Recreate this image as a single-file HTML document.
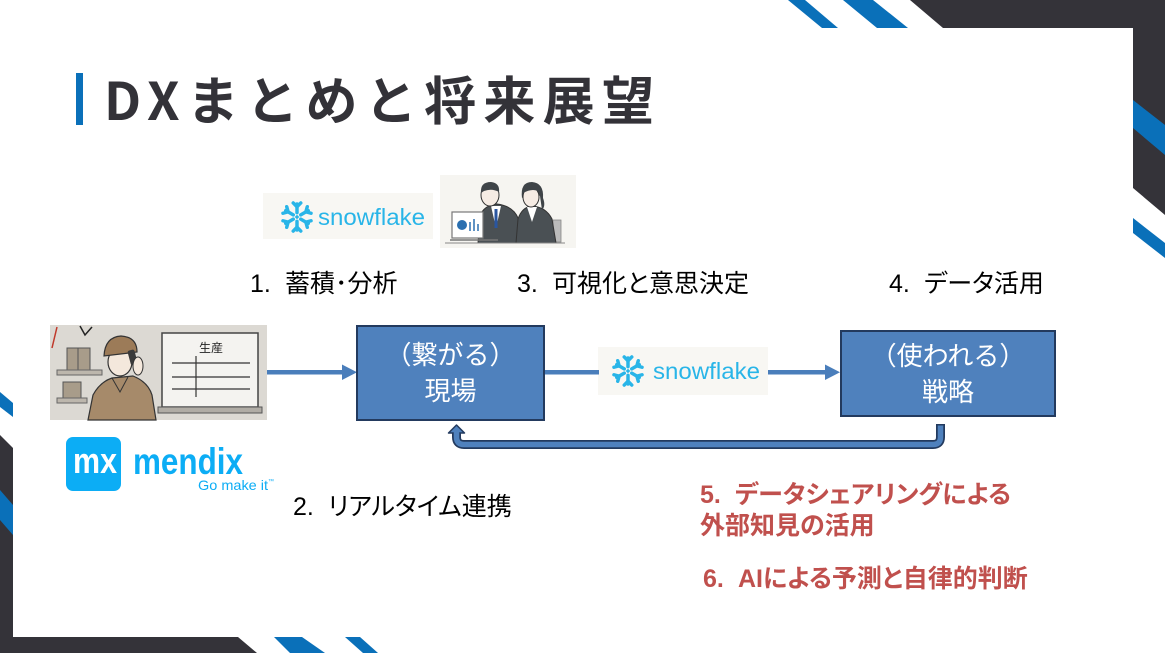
<!DOCTYPE html>
<html><head><meta charset="utf-8">
<style>
html,body{margin:0;padding:0;}
body{width:1165px;height:653px;position:relative;overflow:hidden;background:#fff;font-family:"Liberation Sans","Noto Sans CJK JP",sans-serif;}
.t{position:absolute;white-space:nowrap;}
.p{font-feature-settings:"palt";}
.n{display:inline-block;width:35px;}
.lbl{font-size:25px;line-height:25px;color:#000;}
.red{font-size:25px;line-height:31px;color:#c0504d;font-weight:bold;}
.box{position:absolute;background:#4f81bd;border:2px solid #233a5e;box-sizing:border-box;color:#fff;font-size:26px;line-height:36px;display:flex;flex-direction:column;align-items:center;justify-content:center;white-space:nowrap;}
</style></head>
<body>
<svg width="1165" height="653" style="position:absolute;left:0;top:0" xmlns="http://www.w3.org/2000/svg">
<!-- frame -->
<polygon points="910,0 1165,0 1165,215 1133,188 1133,28 943,28" fill="#343339"/>
<polygon points="1133,100 1165,125 1165,155 1133,128" fill="#0a70b9"/>
<polygon points="1133,218 1165,243 1165,258 1133,233" fill="#0a70b9"/>
<polygon points="788,0 805,0 838,28 822,28" fill="#0a70b9"/>
<polygon points="843,0 873,0 908,28 877,28" fill="#0a70b9"/>
<polygon points="0,435 13,448 13,637 238,637 257,653 0,653" fill="#343339"/>
<polygon points="0,490 13,505 13,535 0,520" fill="#0a70b9"/>
<polygon points="0,392 13,403 13,417 0,407" fill="#0a70b9"/>
<polygon points="274,637 302,637 325,653 290,653" fill="#0a70b9"/>
<polygon points="345,637 360,637 378,653 363,653" fill="#0a70b9"/>
<!-- title bar -->
<rect x="76" y="73" width="7" height="52" fill="#0a70b9"/>

<!-- worker illustration -->
<rect x="50" y="325" width="217" height="95" fill="#dcd9d3"/>
<line x1="57" y1="327" x2="52" y2="348" stroke="#c0392b" stroke-width="1.5"/>
<polyline points="80,326 85,335 92,327" fill="none" stroke="#222" stroke-width="1.5"/>
<rect x="67" y="348" width="23" height="22" fill="#a89c8a" stroke="#555" stroke-width="1"/>
<line x1="78" y1="348" x2="78" y2="370" stroke="#555" stroke-width="1"/>
<rect x="57" y="370" width="45" height="5" fill="#bdb7ad" stroke="#666" stroke-width="1"/>
<rect x="63" y="382" width="18" height="16" fill="#a89c8a" stroke="#555" stroke-width="1"/>
<rect x="57" y="398" width="30" height="5" fill="#bdb7ad" stroke="#666" stroke-width="1"/>
<path d="M88,420 L93,395 Q100,382 112,378 L133,376 Q148,382 152,395 L156,420 Z" fill="#a68a6a" stroke="#333" stroke-width="1.2"/>
<path d="M112,378 L120,392 L128,377" fill="none" stroke="#333" stroke-width="1"/>
<ellipse cx="120" cy="362" rx="12" ry="14" fill="#f4e8dc" stroke="#333" stroke-width="1.2"/>
<path d="M104,356 Q105,337 121,336 Q137,337 137,352 L104,356 Z" fill="#9c7b58" stroke="#333" stroke-width="1.2"/>
<rect x="129" y="350" width="7" height="15" rx="2" fill="#3a3a3a" transform="rotate(-15 132 357)"/>
<ellipse cx="138" cy="366" rx="5" ry="9" fill="#f4e8dc" stroke="#333" stroke-width="1"/>
<rect x="162" y="333" width="96" height="74" fill="#f4f3f0" stroke="#444" stroke-width="1.5"/>
<rect x="158" y="407" width="104" height="6" fill="#b0aca5" stroke="#555" stroke-width="1"/>
<text x="211" y="352" font-size="12" text-anchor="middle" fill="#222" font-family="Noto Sans CJK JP, sans-serif">生産</text>
<line x1="172" y1="363" x2="250" y2="363" stroke="#333" stroke-width="1.2"/>
<line x1="172" y1="377" x2="250" y2="377" stroke="#333" stroke-width="1.2"/>
<line x1="172" y1="389" x2="250" y2="389" stroke="#333" stroke-width="1.2"/>
<line x1="196" y1="356" x2="196" y2="397" stroke="#333" stroke-width="1.2"/>

<!-- business illustration -->
<rect x="440" y="175" width="136" height="73" fill="#f6f5f1"/>
<rect x="553" y="220" width="8" height="22" fill="#bbbbbb" stroke="#888" stroke-width="0.8"/>
<path d="M478,243 L480,216 Q484,205 497,204 Q513,206 518,218 L520,243 Z" fill="#4a5054" stroke="#333" stroke-width="1"/>
<polygon points="491,206 501,206 496,228" fill="#ffffff"/>
<line x1="496" y1="209" x2="496" y2="228" stroke="#2a56a0" stroke-width="3"/>
<ellipse cx="490" cy="195" rx="9" ry="11" fill="#f6ece4" stroke="#333" stroke-width="1"/>
<path d="M481,193 Q480,182 491,182 Q500,183 499,192 Q492,188 484,191 Z" fill="#3f4448"/>
<path d="M516,243 L518,219 Q522,207 532,206 Q546,207 552,219 L556,243 Z" fill="#4a5054" stroke="#333" stroke-width="1"/>
<polygon points="527,207 537,207 532,222" fill="#ffffff"/>
<path d="M522,198 Q520,182 532,182 Q544,183 543,198 Q546,206 542,210 L540,196 Q534,190 526,194 Z" fill="#3f4448"/>
<ellipse cx="531" cy="197" rx="8" ry="10" fill="#f6ece4" stroke="#333" stroke-width="1"/>
<path d="M523,193 Q524,183 532,183 Q541,184 541,193 Q534,187 523,193 Z" fill="#3f4448"/>
<rect x="452" y="212" width="31" height="26" fill="#ffffff" stroke="#777" stroke-width="1.2"/>
<circle cx="462" cy="225" r="5" fill="#2a6fb0"/>
<line x1="470" y1="222" x2="470" y2="231" stroke="#2a6fb0" stroke-width="1.5"/>
<line x1="474" y1="219" x2="474" y2="231" stroke="#2a6fb0" stroke-width="1.5"/>
<line x1="478" y1="224" x2="478" y2="231" stroke="#2a6fb0" stroke-width="1.5"/>
<line x1="450" y1="240" x2="498" y2="240" stroke="#777" stroke-width="1.5"/>
<line x1="445" y1="243" x2="565" y2="243" stroke="#888" stroke-width="1"/>

<!-- snowflake logo 1 -->
<rect x="263" y="193" width="170" height="46" fill="#f8f7f3"/>
<g transform="translate(297,217) scale(1.08)" stroke="#29b5e8" stroke-width="3.2" stroke-linecap="round" stroke-linejoin="round" fill="none">
<g><line x1="0" y1="-4" x2="0" y2="-12"/><polyline points="-3.5,-13 0,-9.5 3.5,-13"/></g>
<g transform="rotate(60)"><line x1="0" y1="-4" x2="0" y2="-12"/><polyline points="-3.5,-13 0,-9.5 3.5,-13"/></g>
<g transform="rotate(120)"><line x1="0" y1="-4" x2="0" y2="-12"/><polyline points="-3.5,-13 0,-9.5 3.5,-13"/></g>
<g transform="rotate(180)"><line x1="0" y1="-4" x2="0" y2="-12"/><polyline points="-3.5,-13 0,-9.5 3.5,-13"/></g>
<g transform="rotate(240)"><line x1="0" y1="-4" x2="0" y2="-12"/><polyline points="-3.5,-13 0,-9.5 3.5,-13"/></g>
<g transform="rotate(300)"><line x1="0" y1="-4" x2="0" y2="-12"/><polyline points="-3.5,-13 0,-9.5 3.5,-13"/></g>
<rect x="-1.5" y="-1.5" width="3" height="3" fill="#29b5e8" stroke="none" transform="rotate(45)"/>
</g>
<text x="318" y="225" font-size="23" fill="#29b5e8" font-family="Liberation Sans, sans-serif" textLength="107" lengthAdjust="spacingAndGlyphs">snowflake</text>

<!-- snowflake logo 2 -->
<rect x="598" y="347" width="170" height="48" fill="#f8f7f3"/>
<g transform="translate(628,371) scale(1.08)" stroke="#29b5e8" stroke-width="3.2" stroke-linecap="round" stroke-linejoin="round" fill="none">
<g><line x1="0" y1="-4" x2="0" y2="-12"/><polyline points="-3.5,-13 0,-9.5 3.5,-13"/></g>
<g transform="rotate(60)"><line x1="0" y1="-4" x2="0" y2="-12"/><polyline points="-3.5,-13 0,-9.5 3.5,-13"/></g>
<g transform="rotate(120)"><line x1="0" y1="-4" x2="0" y2="-12"/><polyline points="-3.5,-13 0,-9.5 3.5,-13"/></g>
<g transform="rotate(180)"><line x1="0" y1="-4" x2="0" y2="-12"/><polyline points="-3.5,-13 0,-9.5 3.5,-13"/></g>
<g transform="rotate(240)"><line x1="0" y1="-4" x2="0" y2="-12"/><polyline points="-3.5,-13 0,-9.5 3.5,-13"/></g>
<g transform="rotate(300)"><line x1="0" y1="-4" x2="0" y2="-12"/><polyline points="-3.5,-13 0,-9.5 3.5,-13"/></g>
<rect x="-1.5" y="-1.5" width="3" height="3" fill="#29b5e8" stroke="none" transform="rotate(45)"/>
</g>
<text x="653" y="379" font-size="23" fill="#29b5e8" font-family="Liberation Sans, sans-serif" textLength="107" lengthAdjust="spacingAndGlyphs">snowflake</text>

<!-- mendix logo -->
<rect x="66" y="437" width="55" height="54" rx="7" fill="#0cadf5"/>
<text x="73" y="473" font-size="36" font-weight="bold" fill="#ffffff" font-family="Liberation Sans, sans-serif" textLength="44" lengthAdjust="spacingAndGlyphs">mx</text>
<text x="133" y="474" font-size="37" font-weight="bold" fill="#0cadf5" font-family="Liberation Sans, sans-serif" textLength="110" lengthAdjust="spacingAndGlyphs">mendix</text>
<text x="198" y="490" font-size="14" fill="#0cadf5" font-family="Liberation Sans, sans-serif" textLength="70" lengthAdjust="spacingAndGlyphs">Go make it</text>
<text x="268" y="483" font-size="6" fill="#0cadf5" font-family="Liberation Sans, sans-serif">™</text>

<!-- connectors -->
<rect x="267" y="370" width="76" height="4.5" fill="#4a7ebb"/>
<polygon points="342,364.5 357,372.2 342,380" fill="#4a7ebb"/>
<rect x="544" y="370" width="55" height="4.5" fill="#4a7ebb"/>
<rect x="768" y="370" width="58" height="4.5" fill="#4a7ebb"/>
<polygon points="825,364.5 840,372.2 825,380" fill="#4a7ebb"/>

<!-- return arrow -->
<path d="M940.5,424 V437 Q940.5,444.5 933,444.5 H464 Q456.5,444.5 456.5,437 V432" fill="none" stroke="#233a5e" stroke-width="9"/>
<polygon points="448.5,433 456.5,425 464.5,433" fill="#4f81bd" stroke="#233a5e" stroke-width="1.5" stroke-linejoin="round"/>
<path d="M940.5,425.5 V437 Q940.5,444.5 933,444.5 H464 Q456.5,444.5 456.5,437 V431" fill="none" stroke="#4f81bd" stroke-width="5.5"/>
</svg>

<div class="t" style="left:104px;top:70px;font-family:'Noto Sans CJK JP',sans-serif;font-size:52px;line-height:56px;font-weight:bold;letter-spacing:7.3px;color:#333238;">DXまとめと将来展望</div>

<div class="box" style="left:356px;top:325px;width:189px;height:96px;"><div>（繋がる）</div><div>現場</div></div>
<div class="box" style="left:840px;top:330px;width:216px;height:87px;"><div>（使われる）</div><div>戦略</div></div>

<div class="t lbl p" style="left:250px;top:272px;"><span class="n">1.</span>蓄積･分析</div>
<div class="t lbl p" style="left:517px;top:272px;"><span class="n">3.</span>可視化と意思決定</div>
<div class="t lbl p" style="left:889px;top:272px;"><span class="n">4.</span>データ活用</div>
<div class="t lbl p" style="left:293px;top:495px;"><span class="n">2.</span>リアルタイム連携</div>

<div class="t red p" style="left:700px;top:480px;"><span class="n">5.</span>データシェアリングによる<br>外部知見の活用</div>
<div class="t red p" style="left:703px;top:564px;"><span class="n">6.</span>AIによる予測と自律的判断</div>
</body></html>
